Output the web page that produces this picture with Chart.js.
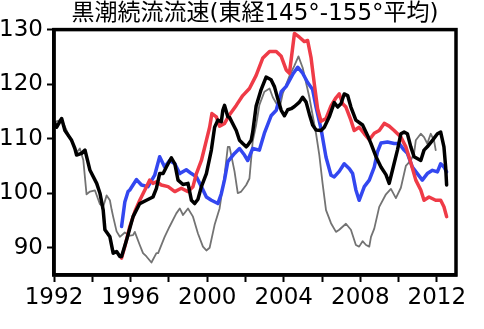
<!DOCTYPE html>
<html>
<head>
<meta charset="utf-8">
<script src="https://cdn.jsdelivr.net/npm/chart.js@4"></script>
<style>
  html, body { margin: 0; padding: 0; background: #fff; }
  #wrap { width: 484px; height: 329px; }
</style>
</head>
<body>
<div id="wrap"><canvas id="kuroshio"></canvas></div>
<script>
// Kuroshio Extension current speed, mean over 145E-155E
const titleText = "黒潮続流流速(東経145°-155°平均)";

const xTicks = [1992, 1994, 1996, 1998, 2000, 2002, 2004, 2006, 2008, 2010, 2012];
const xLabels = [1992, 1996, 2000, 2004, 2008, 2012];
const yTicks = [90, 100, 110, 120, 130];

const blackYears = [1992.00, 1992.14, 1992.40, 1992.57, 1992.92, 1993.09, 1993.18, 1993.44, 1993.62, 1993.88,
  1994.23, 1994.40, 1994.57, 1994.66, 1994.92, 1995.09, 1995.27, 1995.44, 1995.53, 1995.79,
  1996.13, 1996.48, 1996.83, 1997.17, 1997.35, 1997.52, 1997.70, 1997.87, 1998.13, 1998.31,
  1998.48, 1998.74, 1999.00, 1999.18, 1999.35, 1999.52, 1999.70, 1999.96, 2000.22, 2000.39,
  2000.56, 2000.74, 2000.82, 2000.91, 2001.08, 2001.17, 2001.52, 2001.69, 2001.86, 2002.04,
  2002.12, 2002.30, 2002.38, 2002.56, 2002.82, 2003.08, 2003.34, 2003.52, 2003.69, 2003.87,
  2004.04, 2004.21, 2004.39, 2004.56, 2004.82, 2004.99, 2005.17, 2005.34, 2005.51, 2005.69,
  2005.95, 2006.12, 2006.38, 2006.64, 2006.82, 2006.99, 2007.16, 2007.34, 2007.51, 2007.77,
  2008.12, 2008.38, 2008.56, 2008.82, 2009.08, 2009.34, 2009.51, 2009.68, 2009.94, 2010.12,
  2010.29, 2010.46, 2010.64, 2010.81, 2011.16, 2011.33, 2011.50, 2011.77, 2012.03, 2012.20,
  2012.37, 2012.46, 2012.51];
const blackSpeed = [113.1, 112.1, 113.7, 111.5, 109.7, 108.2, 107.0, 107.3, 107.9, 104.2,
  101.8, 100.0, 96.9, 93.3, 92.0, 89.0, 89.3, 88.4, 88.4, 91.4,
  95.7, 98.1, 98.7, 99.3, 100.9, 103.6, 103.6, 104.8, 106.5, 105.4,
  102.4, 101.6, 101.8, 98.7, 98.1, 98.9, 101.2, 103.6, 107.9, 112.1,
  113.4, 113.1, 115.2, 116.1, 114.0, 113.9, 111.5, 109.7, 109.1, 108.5,
  108.8, 109.7, 111.2, 116.0, 119.0, 121.3, 120.8, 119.5, 117.3, 115.2,
  114.2, 115.3, 115.5, 115.9, 116.7, 117.6, 116.7, 114.5, 112.5, 111.6,
  111.5, 112.1, 114.0, 116.6, 115.8, 116.4, 118.2, 117.9, 115.8, 113.4,
  112.5, 110.6, 109.1, 106.7, 104.8, 103.4, 101.8, 104.2, 107.9, 110.9,
  111.2, 110.9, 108.5, 106.7, 106.0, 107.9, 108.5, 109.7, 110.9, 111.2,
  108.5, 104.8, 101.5];

const redYears = [1995.53, 1995.70, 1995.96, 1996.22, 1996.48, 1996.83, 1997.00, 1997.17, 1997.35, 1997.61,
  1997.96, 1998.31, 1998.65, 1999.00, 1999.26, 1999.44, 1999.70, 1999.96, 2000.13, 2000.25,
  2000.48, 2000.65, 2000.91, 2001.17, 2001.52, 2001.86, 2002.21, 2002.56, 2002.91, 2003.26,
  2003.61, 2003.87, 2004.13, 2004.30, 2004.56, 2004.82, 2005.08, 2005.25, 2005.43, 2005.60,
  2005.77, 2005.95, 2006.21, 2006.47, 2006.73, 2006.90, 2007.08, 2007.25, 2007.51, 2007.68,
  2007.94, 2008.21, 2008.47, 2008.73, 2008.99, 2009.25, 2009.51, 2009.77, 2010.12, 2010.38,
  2010.64, 2010.90, 2011.16, 2011.33, 2011.59, 2011.94, 2012.20, 2012.37, 2012.51];
const redSpeed = [88.1, 90.2, 93.9, 96.6, 98.7, 101.2, 102.4, 101.8, 102.1, 101.5,
  101.2, 100.3, 100.9, 100.3, 101.2, 103.6, 106.0, 109.7, 112.1, 114.6,
  114.0, 112.3, 112.8, 114.4, 116.1, 117.9, 119.2, 121.6, 124.8, 126.0,
  126.0, 125.1, 122.6, 122.0, 129.3, 128.6, 127.8, 128.0, 124.8, 120.0,
  115.5, 113.2, 113.7, 116.0, 117.5, 118.2, 116.4, 115.8, 113.4, 111.5,
  112.1, 110.9, 109.8, 111.0, 111.5, 112.8, 112.3, 111.5, 110.3, 108.5,
  105.6, 102.4, 100.6, 98.7, 99.3, 98.7, 98.7, 97.5, 95.7];

const blueYears = [1995.53, 1995.70, 1995.87, 1995.96, 1996.31, 1996.57, 1996.91, 1997.26, 1997.52, 1997.78,
  1998.04, 1998.31, 1998.57, 1998.91, 1999.18, 1999.44, 1999.70, 1999.96, 2000.22, 2000.56,
  2000.74, 2000.91, 2001.08, 2001.43, 2001.69, 2001.95, 2002.12, 2002.38, 2002.73, 2002.99,
  2003.34, 2003.61, 2003.87, 2004.13, 2004.47, 2004.73, 2004.99, 2005.25, 2005.51, 2005.69,
  2005.95, 2006.21, 2006.47, 2006.64, 2006.90, 2007.16, 2007.43, 2007.60, 2007.77, 2007.94,
  2008.21, 2008.47, 2008.73, 2008.90, 2009.08, 2009.42, 2009.77, 2010.03, 2010.29, 2010.46,
  2010.72, 2010.98, 2011.24, 2011.50, 2011.77, 2012.03, 2012.20, 2012.37, 2012.51];
const blueSpeed = [93.9, 98.4, 100.3, 100.6, 102.5, 101.5, 101.2, 103.3, 106.7, 104.8,
  106.0, 105.4, 103.6, 104.3, 103.6, 103.0, 101.2, 99.3, 98.7, 98.1,
  99.9, 102.5, 105.8, 107.3, 108.2, 107.0, 106.0, 108.2, 107.9, 111.0,
  114.2, 115.2, 118.6, 119.6, 121.8, 123.1, 122.0, 120.3, 119.0, 115.8,
  111.8, 106.6, 103.3, 103.0, 104.0, 105.4, 104.5, 103.6, 100.6, 98.7,
  101.2, 102.4, 104.8, 107.6, 109.2, 109.4, 109.1, 109.1, 107.9, 107.3,
  104.8, 103.6, 102.4, 103.6, 104.2, 103.9, 105.4, 104.8, 103.9];

const grayYears = [1992.00, 1992.40, 1992.92, 1993.18, 1993.35, 1993.53, 1993.70, 1993.88, 1994.14, 1994.40,
  1994.57, 1994.75, 1994.92, 1995.01, 1995.09, 1995.27, 1995.44, 1995.70, 1995.96, 1996.13,
  1996.22, 1996.48, 1996.65, 1996.83, 1997.09, 1997.35, 1997.44, 1997.78, 1998.04, 1998.39,
  1998.57, 1998.74, 1999.00, 1999.26, 1999.52, 1999.78, 1999.96, 2000.13, 2000.39, 2000.65,
  2000.91, 2001.08, 2001.17, 2001.43, 2001.60, 2001.78, 2002.04, 2002.21, 2002.38, 2002.56,
  2002.73, 2002.99, 2003.26, 2003.43, 2003.61, 2003.78, 2003.95, 2004.30, 2004.56, 2004.77,
  2004.99, 2005.17, 2005.34, 2005.51, 2005.69, 2005.86, 2006.03, 2006.21, 2006.47, 2006.73,
  2006.90, 2007.25, 2007.51, 2007.77, 2007.94, 2008.12, 2008.30, 2008.47, 2008.56, 2008.73,
  2008.99, 2009.34, 2009.60, 2009.86, 2010.12, 2010.38, 2010.64, 2010.81, 2010.90, 2011.16,
  2011.33, 2011.50, 2011.68, 2011.85, 2011.94];
const graySpeed = [113.0, 113.5, 109.5, 107.5, 108.2, 106.1, 99.8, 100.3, 100.5, 98.0,
  97.5, 99.6, 98.7, 97.0, 95.7, 93.0, 92.0, 92.8, 92.2, 92.3,
  92.9, 90.5, 89.0, 88.4, 87.3, 89.0, 89.0, 92.0, 93.9, 96.3,
  97.2, 96.0, 97.2, 95.7, 92.6, 90.2, 89.5, 90.0, 94.2, 97.2,
  103.3, 108.5, 108.5, 104.0, 100.0, 100.3, 101.5, 102.7, 109.5, 112.5,
  116.2, 118.6, 119.2, 117.6, 116.5, 115.5, 118.3, 121.5, 123.4, 125.1,
  123.0, 120.2, 117.6, 114.3, 110.9, 107.0, 101.8, 96.9, 94.5, 92.9,
  93.3, 94.4, 93.3, 90.5, 90.2, 91.2, 90.5, 90.2, 92.0, 93.5,
  97.5, 99.8, 100.8, 99.1, 101.0, 105.0, 106.0, 107.3, 109.7, 110.9,
  110.3, 109.1, 110.9, 109.7, 107.9];

function toPoints(years, values) {
  return years.map((yr, i) => ({ x: yr, y: values[i] }));
}

// thick frame around the plot area
const frame = {
  id: 'frame',
  afterDraw(chart) {
    const { ctx, chartArea: a } = chart;
    ctx.save();
    ctx.strokeStyle = '#000';
    ctx.lineWidth = 3.5;
    ctx.strokeRect(a.left, a.top, a.right - a.left, a.bottom - a.top);
    ctx.restore();
  }
};

const tickFont = { family: 'DejaVu Sans', size: 23 };

new Chart(document.getElementById('kuroshio'), {
  type: 'line',
  data: {
    datasets: [
      { data: toPoints(blackYears, blackSpeed), borderColor: '#000000', borderWidth: 3.5 },
      { data: toPoints(redYears, redSpeed), borderColor: '#ef3b47', borderWidth: 3.5 },
      { data: toPoints(blueYears, blueSpeed), borderColor: '#3347f0', borderWidth: 3.5 },
      { data: toPoints(grayYears, graySpeed), borderColor: '#737373', borderWidth: 1.8 }
    ]
  },
  options: {
    responsive: true,
    maintainAspectRatio: false,
    animation: false,
    layout: { padding: { top: 0, right: 28, bottom: 0, left: 0 } },
    elements: {
      point: { radius: 0 },
      line: { tension: 0, borderJoinStyle: 'round', borderCapStyle: 'round' }
    },
    plugins: {
      legend: { display: false },
      tooltip: { enabled: false },
      title: {
        display: true,
        text: titleText,
        fullSize: false,
        color: '#000',
        font: { family: "'DejaVu Sans', 'Noto Sans CJK JP'", size: 23, weight: 'normal' },
        padding: { top: 0, bottom: 2 }
      }
    },
    scales: {
      x: {
        type: 'linear',
        min: 1992,
        max: 2013,
        afterFit: (s) => { s.height = 54; },
        afterBuildTicks: (s) => { s.ticks = xTicks.map(v => ({ value: v })); },
        ticks: {
          color: '#000',
          font: tickFont,
          padding: 2,
          maxRotation: 0,
          autoSkip: false,
          callback: (v) => xLabels.includes(v) ? String(v) : ''
        },
        grid: { drawOnChartArea: false, tickLength: 7, tickWidth: 2, color: '#000' },
        border: { color: '#000', width: 3.5 }
      },
      y: {
        min: 85,
        max: 130,
        afterFit: (s) => { s.width = 54; },
        afterBuildTicks: (s) => { s.ticks = yTicks.map(v => ({ value: v })); },
        ticks: { color: '#000', font: tickFont, padding: 4 },
        grid: { drawOnChartArea: false, tickLength: 7, tickWidth: 2, color: '#000' },
        border: { color: '#000', width: 3.5 }
      }
    }
  },
  plugins: [frame]
});
</script>
</body>
</html>
